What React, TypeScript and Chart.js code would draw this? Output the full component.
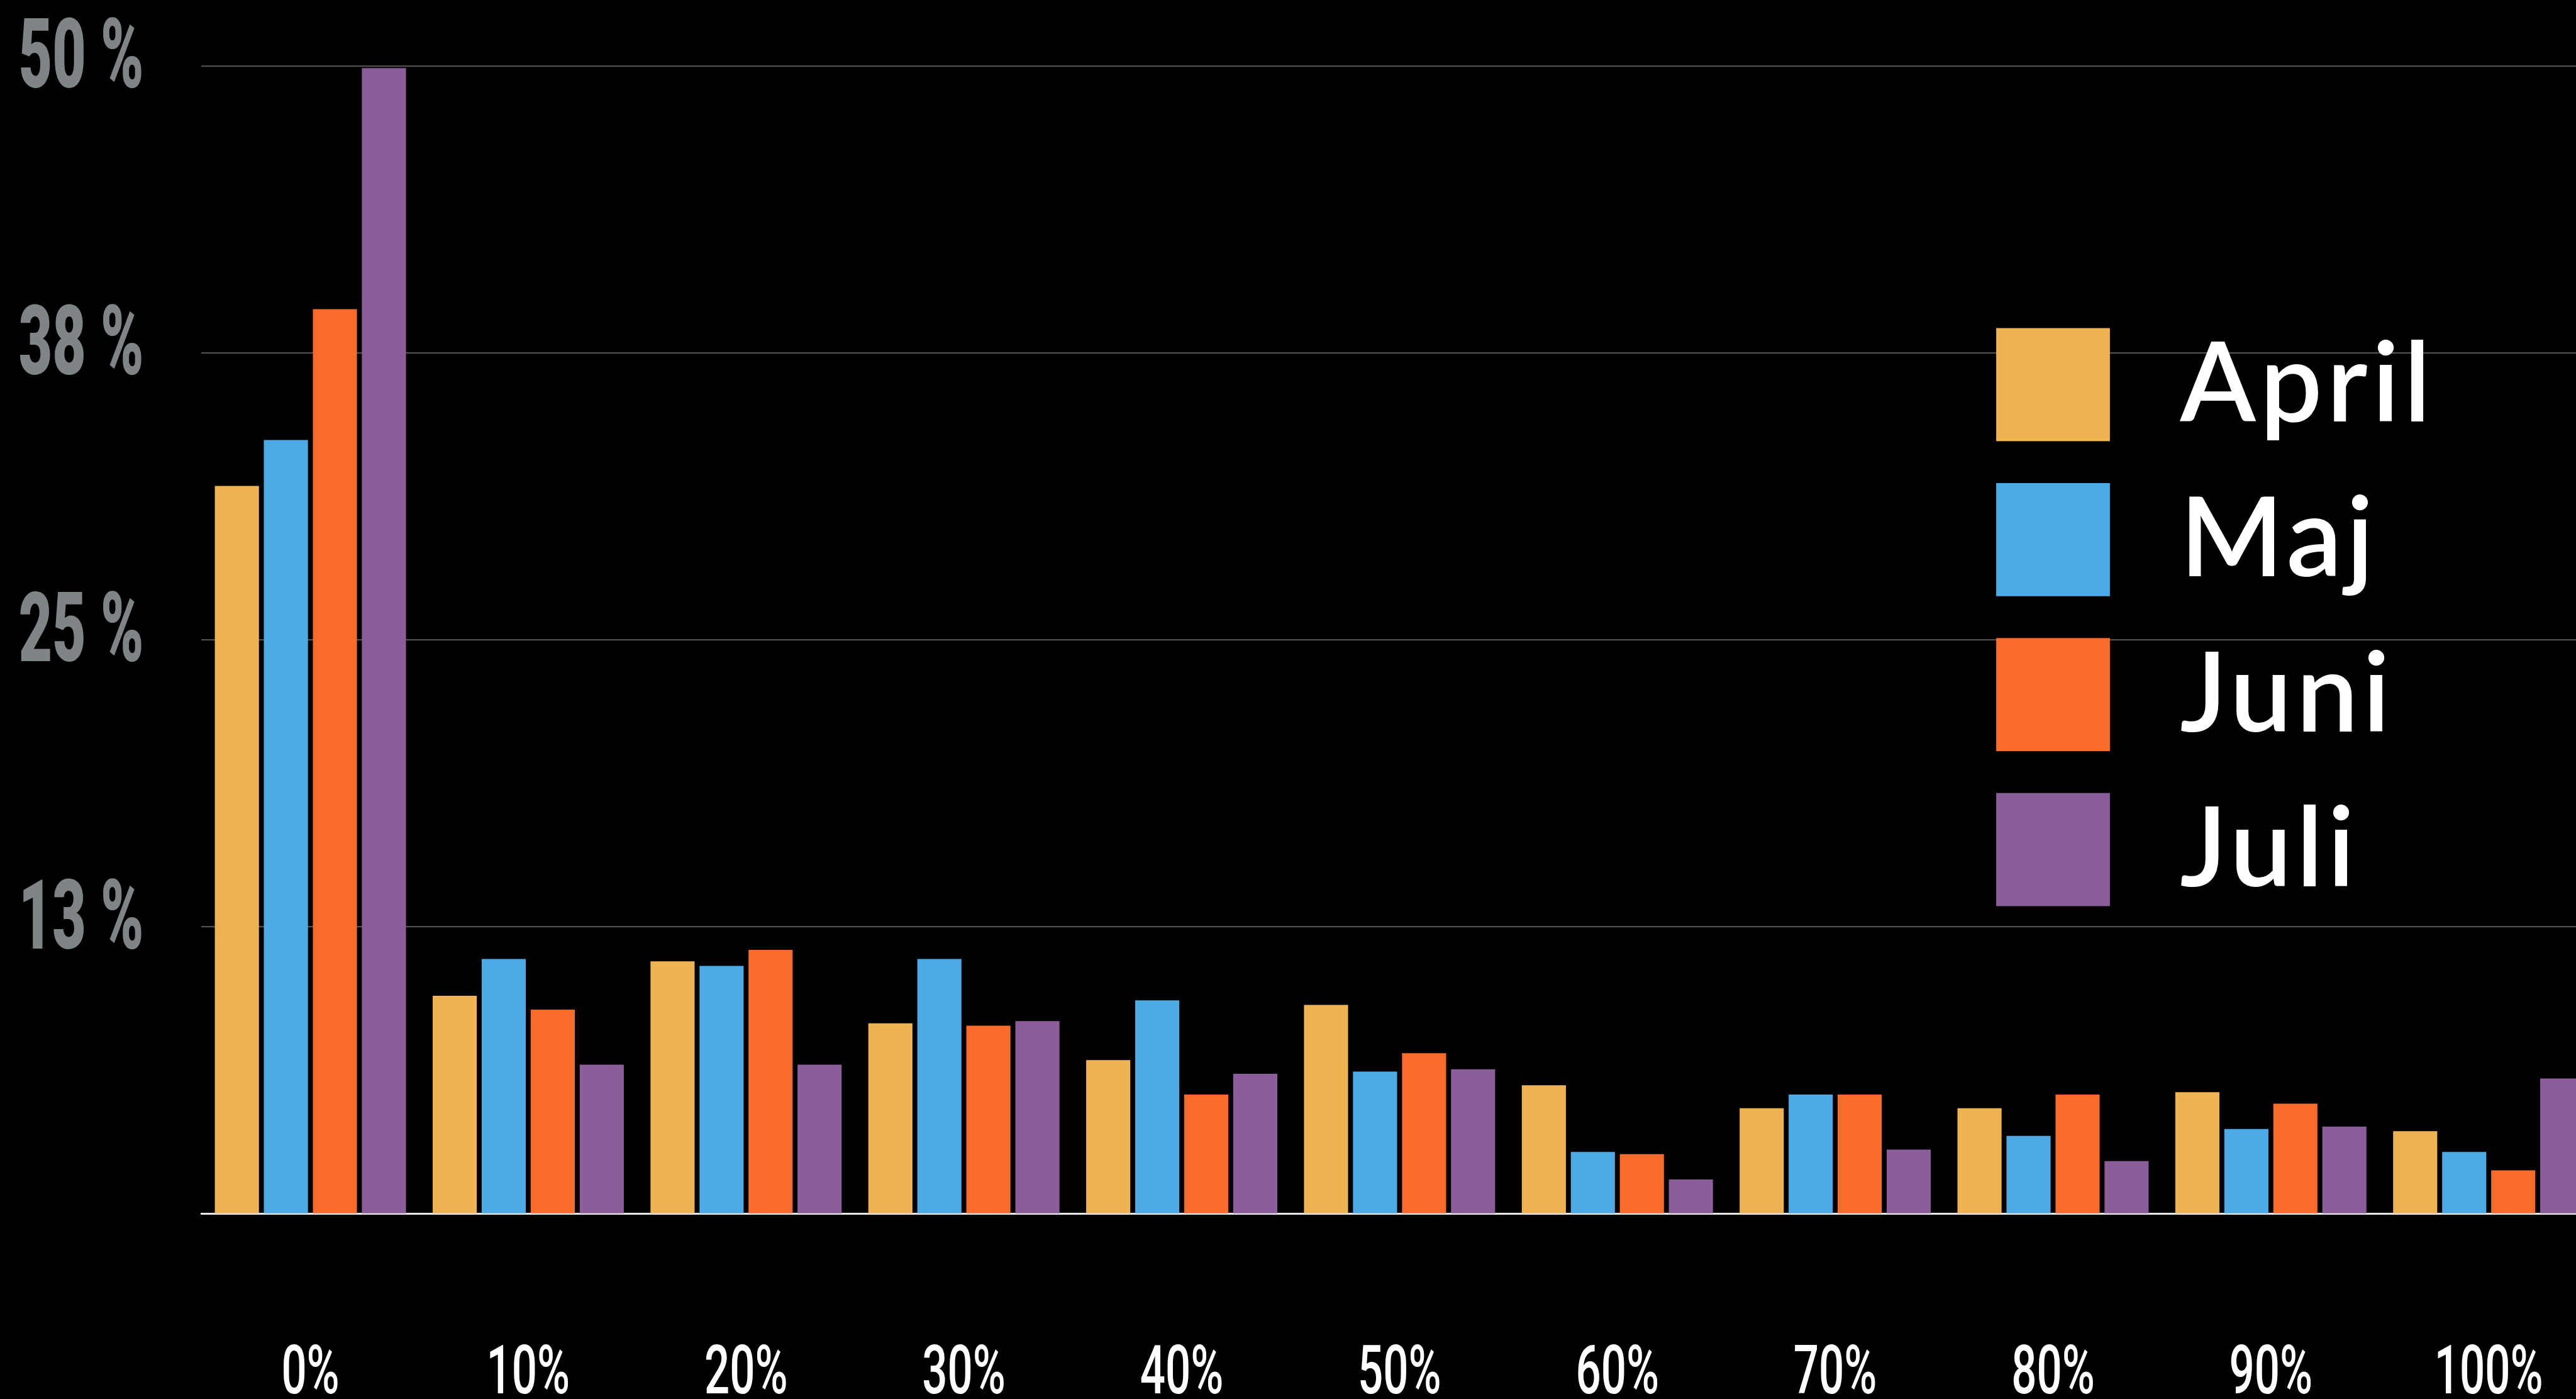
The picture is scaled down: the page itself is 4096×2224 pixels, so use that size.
import React, { useEffect, useRef } from 'react';
import { Chart, registerables } from 'chart.js';

Chart.register(...registerables);

// scale from the reference (4123 wide) to the window (4096 wide)
const S = 4096 / 4123;

const CATEGORIES = ['0%', '10%', '20%', '30%', '40%', '50%', '60%', '70%', '80%', '90%', '100%'];
const SERIES_NAMES = ['April', 'Maj', 'Juni', 'Juli'];
const APRIL = [31.7, 9.5, 11.0, 8.3, 6.7, 9.1, 5.6, 4.6, 4.6, 5.3, 3.6];
const MAJ = [33.7, 11.1, 10.8, 11.1, 9.3, 6.2, 2.7, 5.2, 3.4, 3.7, 2.7];
const JUNI = [39.4, 8.9, 11.5, 8.2, 5.2, 7.0, 2.6, 5.2, 5.2, 4.8, 1.9];
const JULI = [49.9, 6.5, 6.5, 8.4, 6.1, 6.3, 1.5, 2.8, 2.3, 3.8, 5.9];
const SERIES_COLORS = ['#F0B352', '#4EAAE6', '#F96B2B', '#8B5E9B'];
const Y_TICK_VALUES = [0, 12.5, 25, 37.5, 50];
const Y_TICK_LABELS = ['', '13 %', '25 %', '38 %', '50 %'];

const VIEW_W = 4096;
const VIEW_H = 2224;
const CANVAS_W = 4136;
const CANVAS_H = VIEW_H;

const PAD_LEFT = 322.5 * S;
const PAD_TOP = 105.3 * S;
const PAD_RIGHT = CANVAS_W - 4157.6 * S;
const PAD_BOTTOM = CANVAS_H - 1942.5 * S;

const labelsPlugin = {
  id: 'customLabels',
  afterDraw(chart: any) {
    const ctx: any = chart.ctx;
    const yScale = chart.scales.y;
    const xScale = chart.scales.x;
    ctx.save();

    // y-axis labels (condensed, grey)
    ctx.fillStyle = '#7f8486';
    ctx.font = `900 ${155 * S}px Roboto`;
    ctx.textAlign = 'right';
    ctx.textBaseline = 'alphabetic';
    Y_TICK_VALUES.forEach((v, i) => {
      const label = Y_TICK_LABELS[i];
      if (!label) return;
      const py = yScale.getPixelForValue(v);
      ctx.save();
      ctx.translate(230 * S, py + 34.4 * S);
      ctx.scale(0.6, 1);
      ctx.fillText(label, 0, 0);
      ctx.restore();
    });

    // x-axis labels (condensed, white)
    ctx.fillStyle = '#ffffff';
    ctx.font = `500 ${108 * S}px Roboto`;
    ctx.textAlign = 'center';
    (chart.data.labels as string[]).forEach((lab, i) => {
      const px = xScale.getPixelForValue(i);
      ctx.save();
      ctx.translate(px, 2230 * S);
      ctx.scale(0.66, 1);
      ctx.fillText(lab, 0, 0);
      ctx.restore();
    });

    // legend drawn over the plot area
    ctx.textAlign = 'left';
    ctx.font = `600 ${177 * S}px Lato`;
    if ('letterSpacing' in ctx) ctx.letterSpacing = '7px';
    chart.data.datasets.forEach((ds: any, i: number) => {
      const top = (525 + i * 248) * S;
      ctx.fillStyle = ds.backgroundColor;
      ctx.fillRect(3195 * S, top, 182 * S, 181 * S);
      ctx.fillStyle = '#ffffff';
      ctx.fillText(ds.label, 3489 * S, top + 149.5 * S);
    });

    ctx.restore();
  },
};

export default function App() {
  const canvasRef = useRef<HTMLCanvasElement | null>(null);

  useEffect(() => {
    const canvas = canvasRef.current;
    if (!canvas) return;
    const seriesValues = [APRIL, MAJ, JUNI, JULI];
    const chart = new Chart(canvas, {
      type: 'bar',
      data: {
        labels: CATEGORIES,
        datasets: SERIES_NAMES.map((name, i) => ({
          label: name,
          data: seriesValues[i],
          backgroundColor: SERIES_COLORS[i],
          borderWidth: 0,
          categoryPercentage: 0.9,
          barPercentage: 0.9,
        })),
      },
      options: {
        responsive: false,
        maintainAspectRatio: false,
        devicePixelRatio: 1,
        animation: false,
        layout: {
          padding: { left: PAD_LEFT, top: PAD_TOP, right: PAD_RIGHT, bottom: PAD_BOTTOM },
        },
        plugins: {
          legend: { display: false },
          tooltip: { enabled: false },
        },
        scales: {
          x: {
            type: 'category',
            offset: true,
            grid: { display: false, drawTicks: false },
            border: { display: true, color: '#e6e6e6', width: 3 },
            ticks: { display: false },
          },
          y: {
            type: 'linear',
            min: 0,
            max: 50,
            afterBuildTicks: (scale: any) => {
              scale.ticks = Y_TICK_VALUES.map((v) => ({ value: v }));
            },
            grid: { color: '#505050', lineWidth: 2.2, drawTicks: false },
            border: { display: false },
            ticks: { display: false },
          },
        },
      },
      plugins: [labelsPlugin],
    } as any);
    return () => chart.destroy();
  }, []);

  return (
    <div
      style={{
        position: 'fixed',
        left: 0,
        top: 0,
        width: VIEW_W,
        height: VIEW_H,
        overflow: 'hidden',
        background: '#000000',
      }}
    >
      <canvas
        ref={canvasRef}
        width={CANVAS_W}
        height={CANVAS_H}
        style={{ display: 'block', width: CANVAS_W, height: CANVAS_H }}
      />
    </div>
  );
}
